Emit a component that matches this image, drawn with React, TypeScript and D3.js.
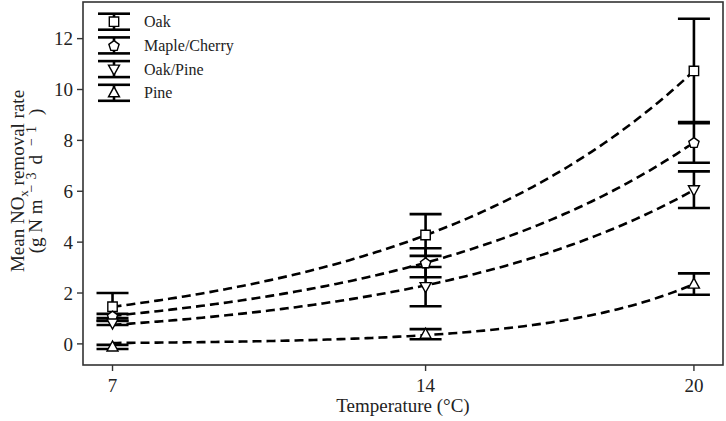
import React from 'react'
import * as d3 from 'd3'

// values
const temperatures = [7, 14, 20]
const seriesNames = ['Oak', 'Maple/Cherry', 'Oak/Pine', 'Pine']
const oakMeans = [1.46, 4.28, 10.73]
const oakErrors = [0.54, 0.82, 2.05]
const mapleMeans = [1.1, 3.19, 7.92]
const mapleErrors = [0.08, 0.57, 0.8]
const oakPineMeans = [0.82, 2.25, 6.06]
const oakPineErrors = [0.08, 0.77, 0.72]
const pineMeans = [-0.12, 0.38, 2.35]
const pineErrors = [0.08, 0.2, 0.42]
const markerShapes = ['square', 'pentagon', 'triangleDown', 'triangleUp']
const xTicks = [7, 14, 20]
const yTicks = [0, 2, 4, 6, 8, 10, 12]

const W = 726
const H = 421
const margin = { top: 2, right: 3, bottom: 56, left: 83 }
const FONT = '"Liberation Serif", "Times New Roman", serif'

const x = d3.scaleLinear().domain([6.34, 20.65]).range([margin.left, W - margin.right])
const y = d3.scaleLinear().domain([-0.83, 13.44]).range([H - margin.bottom, margin.top])

const series = [
  { name: seriesNames[0], means: oakMeans, errors: oakErrors, shape: markerShapes[0] },
  { name: seriesNames[1], means: mapleMeans, errors: mapleErrors, shape: markerShapes[1] },
  { name: seriesNames[2], means: oakPineMeans, errors: oakPineErrors, shape: markerShapes[2] },
  { name: seriesNames[3], means: pineMeans, errors: pineErrors, shape: markerShapes[3] },
]

// least squares fit of y = a * exp(b * t)
function expFit(ts: number[], ys: number[]) {
  let best = { a: 0, b: 0, sse: Infinity }
  for (let b = 0; b <= 0.6; b += 0.0005) {
    const e = ts.map(t => Math.exp(b * t))
    const a = d3.sum(ys, (v, i) => v * e[i]) / d3.sum(e, v => v * v)
    const sse = d3.sum(ys, (v, i) => (v - a * e[i]) ** 2)
    if (sse < best.sse) best = { a, b, sse }
  }
  return best
}

function markerPath(shape: string, cx: number, cy: number) {
  const r = 5
  if (shape === 'square') {
    return `M${cx - 4.7},${cy - 4.7}h9.4v9.4h-9.4Z`
  }
  if (shape === 'pentagon') {
    const pts = d3.range(5).map(i => {
      const ang = -Math.PI / 2 + (i * 2 * Math.PI) / 5
      return [cx + 5.4 * Math.cos(ang), cy + 5.4 * Math.sin(ang) + 0.6]
    })
    return 'M' + pts.map(p => p.join(',')).join('L') + 'Z'
  }
  if (shape === 'triangleDown') {
    return `M${cx - r - 0.5},${cy - r + 1}L${cx + r + 0.5},${cy - r + 1}L${cx},${cy + r + 1}Z`
  }
  return `M${cx - r - 0.5},${cy + r - 1}L${cx + r + 0.5},${cy + r - 1}L${cx},${cy - r - 1}Z`
}

const fitLine = d3.line<[number, number]>().x(d => x(d[0])).y(d => y(d[1]))

export default function App() {
  const plotBottom = H - margin.bottom
  const fits = series.map(s => {
    const f = expFit(temperatures, s.means)
    const pts: [number, number][] = d3.range(7, 20.001, 0.1).map(t => [t, f.a * Math.exp(f.b * t)])
    return fitLine(pts) || ''
  })
  const legendX = 114
  const legendY0 = 21.7
  const legendStep = 23.7

  return (
    <div style={{ position: 'absolute', left: 0, top: 0 }}>
      <svg width={W} height={H} style={{ display: 'block', background: '#fff' }} fontFamily={FONT}>
        {/* frame */}
        <rect
          x={margin.left}
          y={margin.top}
          width={W - margin.right - margin.left}
          height={plotBottom - margin.top}
          fill="none"
          stroke="#333"
          strokeWidth={1.6}
        />
        {/* y axis */}
        {yTicks.map(t => (
          <g key={'y' + t}>
            <line x1={margin.left - 6} x2={margin.left} y1={y(t)} y2={y(t)} stroke="#333" strokeWidth={1.4} />
            <text x={margin.left - 10} y={y(t)} dy="0.35em" textAnchor="end" fontSize={19} fill="#222">
              {t}
            </text>
          </g>
        ))}
        {/* x axis */}
        {xTicks.map(t => (
          <g key={'x' + t}>
            <line x1={x(t)} x2={x(t)} y1={plotBottom} y2={plotBottom + 6} stroke="#333" strokeWidth={1.4} />
            <text x={x(t)} y={392} textAnchor="middle" fontSize={19} fill="#222">
              {t}
            </text>
          </g>
        ))}
        <text x={(margin.left + W - margin.right) / 2} y={412} textAnchor="middle" fontSize={19} fill="#222">
          Temperature (°C)
        </text>
        <text transform="translate(24,181) rotate(-90)" textAnchor="middle" fontSize={19} fill="#222">
          Mean NO
          <tspan dy={4} fontSize={13}>x</tspan>
          <tspan dy={-4}> removal rate</tspan>
        </text>
        <text transform="translate(42,181) rotate(-90)" textAnchor="middle" fontSize={19} fill="#222">
          (g N m
          <tspan dx={7} dy={-6} fontSize={14}>−</tspan>
          <tspan dx={5} fontSize={14}>3</tspan>
          <tspan dx={8} dy={6}>d</tspan>
          <tspan dx={9} dy={-6} fontSize={14}>−</tspan>
          <tspan dx={5} fontSize={14}>1</tspan>
          <tspan dx={11} dy={6}>)</tspan>
        </text>

        {/* fitted curves */}
        {fits.map((d, i) => (
          <path key={'fit' + i} d={d} fill="none" stroke="#000" strokeWidth={2.6} strokeDasharray="9 5" />
        ))}

        {/* error bars */}
        {series.map((s, si) =>
          temperatures.map((t, i) => {
            const cx = x(t)
            const top = y(s.means[i] + s.errors[i])
            const bot = y(s.means[i] - s.errors[i])
            return (
              <g key={`eb${si}-${i}`} stroke="#000" strokeWidth={2.6}>
                <line x1={cx} x2={cx} y1={top} y2={bot} />
                <line x1={cx - 16} x2={cx + 16} y1={top} y2={top} />
                <line x1={cx - 16} x2={cx + 16} y1={bot} y2={bot} />
              </g>
            )
          })
        )}

        {/* markers */}
        {series.map((s, si) =>
          temperatures.map((t, i) => (
            <path
              key={`mk${si}-${i}`}
              d={markerPath(s.shape, x(t), y(s.means[i]))}
              fill="#fff"
              stroke="#000"
              strokeWidth={1.4}
            />
          ))
        )}

        {/* legend */}
        {series.map((s, si) => {
          const cy = legendY0 + si * legendStep
          return (
            <g key={'lg' + si}>
              <g stroke="#000" strokeWidth={2.6}>
                <line x1={legendX} x2={legendX} y1={cy - 8} y2={cy + 8} />
                <line x1={legendX - 16} x2={legendX + 16} y1={cy - 8} y2={cy - 8} />
                <line x1={legendX - 16} x2={legendX + 16} y1={cy + 8} y2={cy + 8} />
              </g>
              <path d={markerPath(s.shape, legendX, cy)} fill="#fff" stroke="#000" strokeWidth={1.4} />
              <text x={144} y={cy} dy="0.35em" fontSize={16} fill="#222">
                {s.name}
              </text>
            </g>
          )
        })}
      </svg>
    </div>
  )
}
